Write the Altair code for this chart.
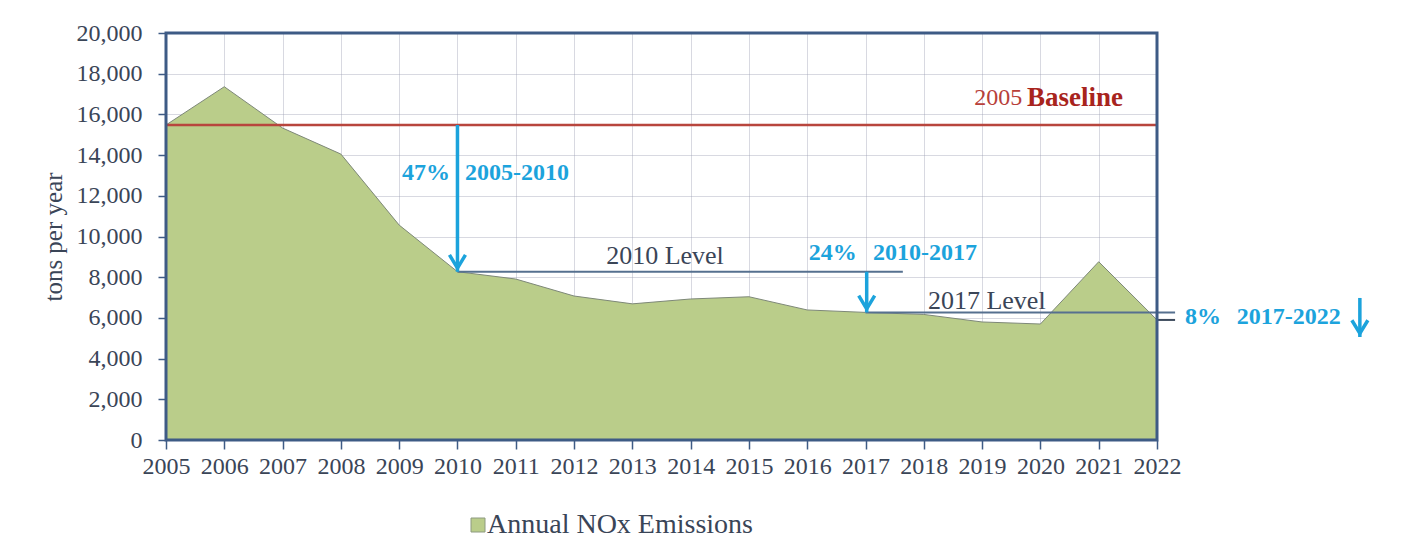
import altair as alt
import pandas as pd

# ---- data ----
years = list(range(2005, 2023))
nox = [15480, 17360, 15330, 14050, 10560, 8270, 7910, 7075, 6690, 6930,
       7040, 6390, 6270, 6170, 5800, 5700, 8760, 5900]
series_name = ["Annual NOx Emissions"]
y_ticks = list(range(0, 20001, 2000))

baseline = nox[0]
lvl2010 = nox[years.index(2010)]
lvl2017 = nox[years.index(2017)]
lvl2022 = nox[-1]

df = pd.DataFrame({"year": years, "nox": nox, "series": series_name * len(years)})

FONT = "Liberation Serif"
BLUE = "#1ca3dc"
RED = "#a8241d"
REDLINE = "#b8453d"
SLATE = "#56708f"
TXT = "#3a4557"
FRAME = "#3e5b85"
GREEN = "#bacd8a"

xs = alt.Scale(domain=[2005, 2022], nice=False, zero=False)
ys = alt.Scale(domain=[0, 20000], nice=False, zero=False)


def X(v):
    return alt.X(datum=v)


def Y(v):
    return alt.Y(datum=v)


area = alt.Chart(df).mark_area(opacity=1).encode(
    x=alt.X("year:Q", scale=xs,
            axis=alt.Axis(values=years, format="d", title=None, labelFlush=False,
                          labelOverlap=False, labelPadding=5, tickSize=9)),
    y=alt.Y("nox:Q", scale=ys,
            axis=alt.Axis(values=y_ticks, format=",d", title="tons per year",
                          labelPadding=16, tickSize=8, titlePadding=10)),
    color=alt.Color("series:N", scale=alt.Scale(range=[GREEN]),
                    legend=alt.Legend(title=None, orient="none", legendX=298, legendY=478,
                                      symbolType="square", symbolSize=196,
                                      symbolStrokeColor="#8d9a80", symbolStrokeWidth=1,
                                      symbolOpacity=1, labelFont=FONT, labelFontSize=28,
                                      labelColor=TXT, labelOffset={"expr": "-5"},
                                      labelLimit=0, padding=0)),
)

outline = alt.Chart(df).mark_line(color="#7e8878", strokeWidth=1).encode(
    x=alt.X("year:Q"), y=alt.Y("nox:Q"))

blank = alt.Chart(pd.DataFrame({"k": [0]}))

base_rule = blank.mark_rule(color=REDLINE, strokeWidth=2.5).encode(
    x=X(2005), x2=alt.X2(datum=2022), y=Y(baseline))

lvl10_rule = blank.mark_rule(color=SLATE, strokeWidth=2).encode(
    x=X(2010), x2=alt.X2(datum=2017.64), y=Y(lvl2010))
lvl17_rule = blank.mark_rule(color=SLATE, strokeWidth=2).encode(
    x=X(2017), x2=alt.X2(datum=2022.31), y=Y(lvl2017))
lvl22_rule = blank.mark_rule(color="#3d4a5c", strokeWidth=2).encode(
    x=X(2022), x2=alt.X2(datum=2022.31), y=Y(lvl2022))

HEAD = "M-1,-2.1L0,-0.45L1,-2.1"


def arrow(xv, y_from, y_to):
    shaft = blank.mark_rule(color=BLUE, strokeWidth=3.5).encode(
        x=X(xv), y=Y(y_from), y2=alt.Y2(datum=y_to))
    head = blank.mark_point(shape=HEAD, filled=False, size=256, strokeWidth=3.5,
                            color=BLUE, opacity=1).encode(x=X(xv), y=Y(y_to))
    return [shaft, head]


def label(txt, xv, yv, align="left", weight="bold", color=BLUE, size=24):
    return blank.mark_text(font=FONT, fontSize=size, fontWeight=weight, color=color,
                           align=align, baseline="middle").encode(
        x=X(xv), y=Y(yv), text=alt.value(txt))


frame = blank.mark_rect(fillOpacity=0, stroke=FRAME, strokeWidth=3).encode(
    x=X(2005), x2=alt.X2(datum=2022), y=Y(0), y2=alt.Y2(datum=20000))

layers = [area, outline, base_rule, lvl10_rule, lvl17_rule, lvl22_rule]
layers += arrow(2010, baseline, lvl2010)
layers += arrow(2017.02, lvl2010, lvl2017)
layers += arrow(2025.48, 6980, 5060)
layers += [
    label("2005", 2019.69, 16806, align="right", weight="normal", color="#b8403a"),
    label("Baseline", 2019.77, 16806, color=RED, size=27),
    label("47%", 2009.87, 13120, align="right"),
    label("2005-2010", 2010.13, 13120),
    label("2010 Level", 2013.56, 9040, align="center", weight="normal", color=TXT, size=26),
    label("24%", 2016.85, 9190, align="right"),
    label("2010-2017", 2017.13, 9190),
    label("2017 Level", 2019.08, 6850, align="center", weight="normal", color=TXT, size=26),
    label("8%", 2022.48, 6045),
    label("2017-2022", 2023.37, 6045),
    frame,
]

chart = alt.layer(*layers).properties(
    width=991, height=407,
    autosize=alt.AutoSizeParams(type="none"),
    padding={"left": 158, "top": 25, "right": 225, "bottom": 105},
    background="white",
).configure_view(stroke=None).configure_axis(
    labelFont=FONT, labelFontSize=24, labelColor=TXT,
    titleFont=FONT, titleFontSize=25, titleColor=TXT, titleFontWeight="normal",
    domain=False, tickColor=FRAME, tickWidth=1.5,
    grid=True, gridColor="#9ea0b4", gridOpacity=0.4, gridWidth=1, zindex=1,
)

chart.save("out.html", embed_options={"renderer": "svg", "actions": False})
